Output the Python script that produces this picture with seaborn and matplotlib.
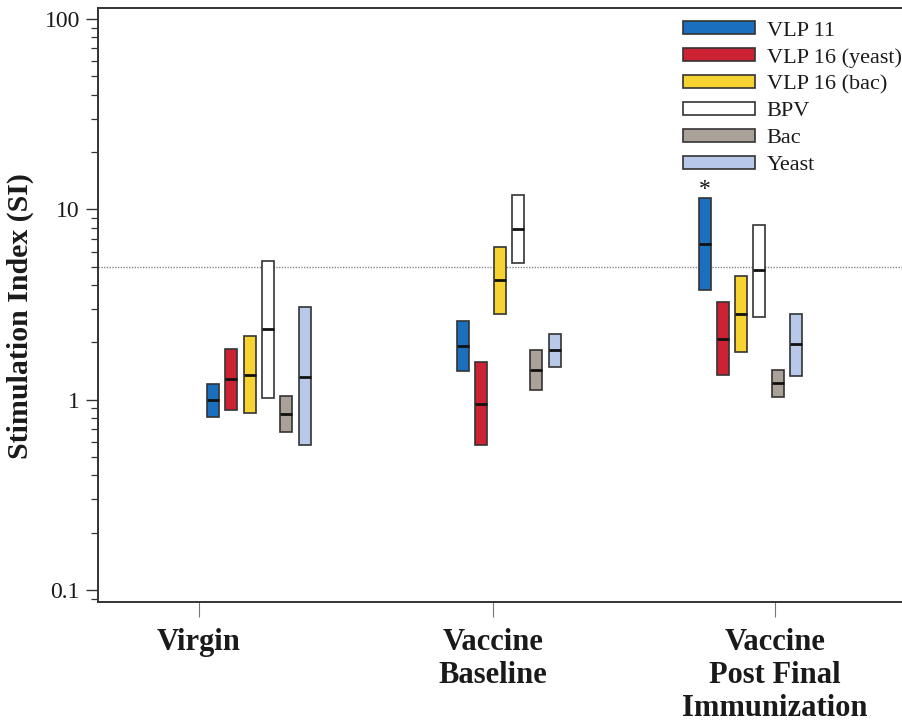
import matplotlib
matplotlib.use("Agg")
import matplotlib.pyplot as plt
import seaborn as sns
import numpy as np
import pandas as pd
from matplotlib.patches import Patch
from matplotlib.ticker import LogLocator, FixedLocator, NullFormatter

# ---------------- data ----------------
groups = ["Virgin", "Vaccine\nBaseline", "Vaccine\nPost Final\nImmunization"]
series = ["VLP 11", "VLP 16 (yeast)", "VLP 16 (bac)", "BPV", "Bac", "Yeast"]

# low / median / high per series, in group order
low_vlp11 = [0.81, 1.41, 3.75]
med_vlp11 = [1.00, 1.91, 6.60]
high_vlp11 = [1.21, 2.58, 11.5]

low_vlp16y = [0.886, 0.575, 1.34]
med_vlp16y = [1.29, 0.95, 2.09]
high_vlp16y = [1.85, 1.58, 3.24]

low_vlp16b = [0.85, 2.82, 1.79]
med_vlp16b = [1.35, 4.27, 2.83]
high_vlp16b = [2.17, 6.36, 4.44]

low_bpv = [1.02, 5.25, 2.72]
med_bpv = [2.36, 7.90, 4.78]
high_bpv = [5.38, 11.9, 8.25]

low_bac = [0.68, 1.13, 1.03]
med_bac = [0.84, 1.43, 1.22]
high_bac = [1.05, 1.82, 1.44]

low_yeast = [0.58, 1.49, 1.33]
med_yeast = [1.32, 1.82, 1.96]
high_yeast = [3.05, 2.22, 2.83]

threshold = 5.0
significant = [("VLP 11", 2)]  # asterisk

colors = ["#1b6fbf", "#cc2233", "#f7d332", "#ffffff", "#aaa199", "#b8c8e8"]

lows = [low_vlp11, low_vlp16y, low_vlp16b, low_bpv, low_bac, low_yeast]
meds = [med_vlp11, med_vlp16y, med_vlp16b, med_bpv, med_bac, med_yeast]
highs = [high_vlp11, high_vlp16y, high_vlp16b, high_bpv, high_bac, high_yeast]

rows = []
for si, s in enumerate(series):
    for gi, g in enumerate(groups):
        rows.append(dict(series=s, sidx=si, group=g, gidx=gi,
                         low=lows[si][gi], med=meds[si][gi], high=highs[si][gi]))
df = pd.DataFrame(rows)

# ---------------- layout ----------------
tick_pos = [1.99, 4.93, 7.75]
group_start = [2.13, 4.63, 7.045]
spacing = 0.183
bar_w = 0.12

sns.set_theme(style="ticks")
plt.rcParams["font.family"] = ["Liberation Serif", "DejaVu Serif"]
edge = "#333333"

fig = plt.figure(figsize=(9.03, 7.25), dpi=100)
ax = fig.add_axes([98 / 903, (725 - 602) / 725, (910 - 98) / 903, (602 - 8) / 725])

df["x"] = [group_start[g] + s * spacing for g, s in zip(df["gidx"], df["sidx"])]

ax.axhline(threshold, color="#888888", lw=1.0, ls=(0, (1, 1)), zorder=1)

for si, s in enumerate(series):
    d = df[df["series"] == s]
    ax.bar(d["x"], d["high"] - d["low"], bottom=d["low"], width=bar_w,
           color=colors[si], edgecolor=edge, linewidth=1.2, zorder=3, label=s)
    ax.hlines(d["med"], d["x"] - bar_w / 2, d["x"] + bar_w / 2, color="#111111",
              lw=2.0, zorder=4)

for s, g in significant:
    r = df[(df["series"] == s) & (df["gidx"] == g)].iloc[0]
    ax.text(r["x"], r["high"] * 0.97, "*", ha="center", va="bottom",
            fontsize=17, color="#111111")

ax.set_yscale("log")
ax.set_ylim(10 ** (-1 - 12 / 190.33), 10 ** (2 + 11 / 190.33))
ax.set_xlim(0.98, 9.10)
ax.yaxis.set_major_locator(FixedLocator([0.1, 1, 10, 100]))
ax.set_yticklabels(["0.1", "1", "10", "100"])
ax.yaxis.set_minor_locator(LogLocator(base=10, subs=np.arange(2, 10)))
ax.yaxis.set_minor_formatter(NullFormatter())
ax.set_xticks(tick_pos)
ax.set_xticklabels(groups, fontsize=22, fontweight="bold", linespacing=1.18,
                   color="#1a1a1a")
ax.tick_params(axis="y", which="major", length=9, width=1.0, color=edge,
               labelsize=17, pad=4, labelcolor="#1a1a1a")
ax.tick_params(axis="y", which="minor", length=5, width=0.9, color=edge)
ax.tick_params(axis="x", which="major", length=11, width=0.8, color="#777777",
               pad=8)

for sp in ["left", "bottom", "top"]:
    ax.spines[sp].set_color(edge)
    ax.spines[sp].set_linewidth(1.4)
ax.spines["right"].set_visible(False)

ax.set_ylabel("Stimulation Index (SI)", fontsize=21.5, fontweight="bold",
              color="#1a1a1a")
ax.yaxis.set_label_coords(-64 / 812, (602 - 316) / 594)

handles = [Patch(facecolor=c, edgecolor=edge, linewidth=1.2) for c in colors]
leg = fig.legend(handles, series, loc="upper left",
                 bbox_to_anchor=(683 / 903, (725 - 21) / 725),
                 frameon=False, fontsize=16, handlelength=3.25,
                 handleheight=0.55, labelspacing=0.33, handletextpad=0.52,
                 borderpad=0, borderaxespad=0)
for t in leg.get_texts():
    t.set_color("#1a1a1a")

fig.savefig("out.png", dpi=100)
